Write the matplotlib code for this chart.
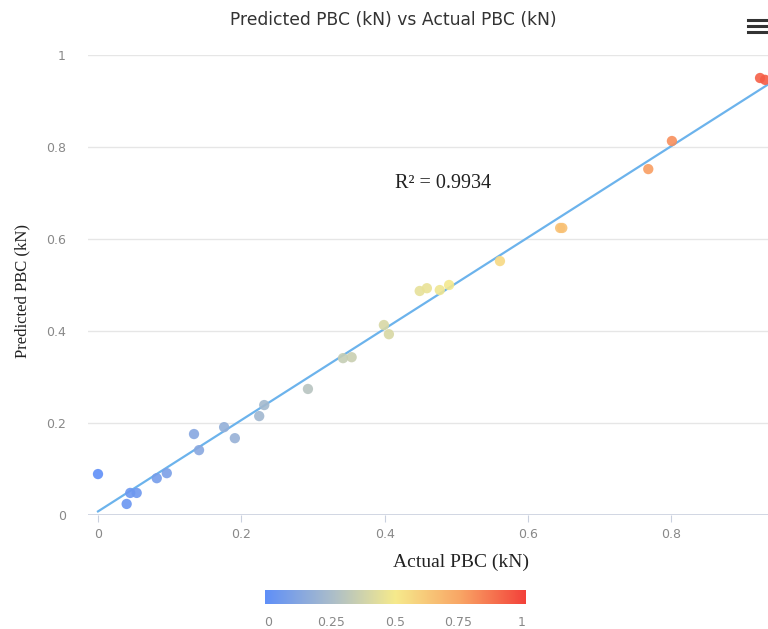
import numpy as np
import matplotlib
matplotlib.use("Agg")
import matplotlib.pyplot as plt
from matplotlib.colors import LinearSegmentedColormap, Normalize
from matplotlib.lines import Line2D

# ---- data ----
actual = [0.000, 0.040, 0.045, 0.054, 0.082, 0.096, 0.134, 0.141, 0.176, 0.191,
          0.225, 0.232, 0.293, 0.342, 0.354, 0.399, 0.406, 0.449, 0.459, 0.477,
          0.490, 0.561, 0.645, 0.648, 0.768, 0.801, 0.924, 0.931]
predicted = [0.089, 0.024, 0.048, 0.048, 0.080, 0.091, 0.176, 0.141, 0.191, 0.167,
             0.215, 0.239, 0.274, 0.341, 0.343, 0.413, 0.393, 0.487, 0.493, 0.489,
             0.500, 0.552, 0.624, 0.624, 0.752, 0.813, 0.950, 0.946]
r2_text = "R² = 0.9934"
x_ticks = [0, 0.2, 0.4, 0.6, 0.8]
x_tick_labels = ["0", "0.2", "0.4", "0.6", "0.8"]
y_ticks = [0, 0.2, 0.4, 0.6, 0.8, 1.0]
y_tick_labels = ["0", "0.2", "0.4", "0.6", "0.8", "1"]
cbar_ticks = [0, 0.25, 0.5, 0.75, 1]
cbar_labels = ["0", "0.25", "0.5", "0.75", "1"]

ax_x = np.array(actual)
ax_y = np.array(predicted)

cmap = LinearSegmentedColormap.from_list(
    "vm", [(0.0, "#5f8ff8"), (0.25, "#a9bccb"), (0.5, "#f6ea8c"),
           (0.75, "#f9a565"), (1.0, "#f3413a")])
norm = Normalize(0, 1)

fig = plt.figure(figsize=(7.68, 6.29), dpi=100)
ax = fig.add_axes([88/768, (629-515)/629, (768-88)/768, 460/629])

xmin, xmax = -10/716.5, 670/716.5
ax.set_xlim(xmin, xmax)
ax.set_ylim(0, 1)

for yv in y_ticks[1:]:
    ax.axhline(yv, color="#e6e6e6", lw=1, zorder=0)
ax.axhline(0, color="#c9d0de", lw=1.2, zorder=1)

# fit line
coef = np.polyfit(ax_x, ax_y, 1)
xl = np.array([0, xmax])
ax.plot(xl, np.polyval(coef, xl), color="#6cb3ec", lw=1.6, zorder=2)

ax.scatter(ax_x, ax_y, c=ax_x, cmap=cmap, norm=norm, s=55, alpha=0.9,
           edgecolors="none", zorder=3, clip_on=False)

for s in ax.spines.values():
    s.set_visible(False)
ax.set_xticks(x_ticks)
ax.set_xticklabels(x_tick_labels)
ax.set_yticks(y_ticks)
ax.set_yticklabels(y_tick_labels)
ax.tick_params(axis="x", length=5, color="#c9d0de", colors="#888888", labelsize=9, pad=4)
ax.tick_params(axis="y", length=0, colors="#888888", labelsize=9, pad=16)
for lab in ax.get_xticklabels():
    lab.set_color("#888888")

fig.text(461/768, 1 - 562/629, "Actual PBC (kN)", family="Liberation Serif", fontsize=14,
         color="#222222", ha="center", va="center")
fig.text(22/768, 1 - 291/629, "Predicted PBC (kN)", family="Liberation Serif", fontsize=12,
         color="#222222", ha="center", va="center", rotation=90)

ax.text(0.415, 0.72, r2_text, family="Liberation Serif", fontsize=14.5, color="#222222",
        ha="left", va="center", transform=ax.transData)

fig.text(393/768, 1 - 20/629, "Predicted PBC (kN) vs Actual PBC (kN)", ha="center", va="center",
         fontsize=12.3, color="#333333", family="DejaVu Sans")

# hamburger menu icon
for yy in [20, 26, 32]:
    fig.add_artist(Line2D([748/768, 768/768], [1 - yy/629, 1 - yy/629], color="#333333", lw=2.2))

# colorbar
cax = fig.add_axes([265/768, (629-604)/629, 261/768, 14/629])
grad = np.linspace(0, 1, 256).reshape(1, -1)
cax.imshow(grad, aspect="auto", cmap=cmap, extent=[0, 1, 0, 1])
cax.set_xlim(0, 1)
cax.set_yticks([])
cax.set_xticks([])
for s in cax.spines.values():
    s.set_visible(False)
for t, l in zip(cbar_ticks, cbar_labels):
    fig.text((268 + t * 254)/768, 1 - 622/629, l, ha="center", va="center", fontsize=9, color="#888888")

fig.savefig("out.png", dpi=100)
